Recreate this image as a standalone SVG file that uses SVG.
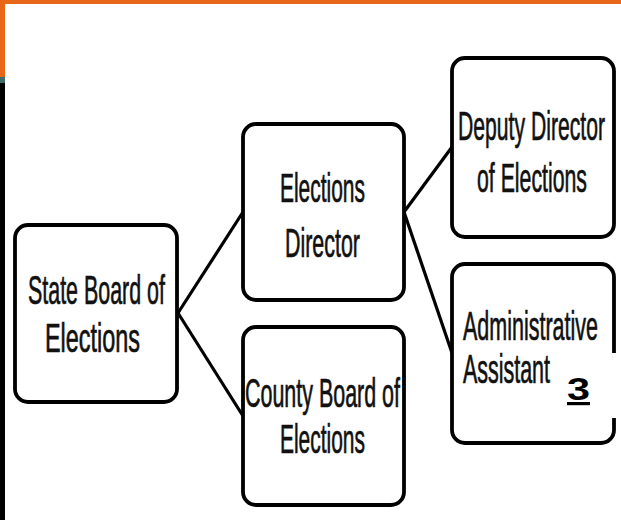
<svg xmlns="http://www.w3.org/2000/svg" width="621" height="520" viewBox="0 0 621 520">
<style>
.box{fill:#fff;stroke:#000;stroke-width:3.8}
.t{font-family:"Liberation Sans",Arial,sans-serif;font-size:41px;fill:#111;stroke:#111;stroke-width:0.7}
.ln{stroke:#000;stroke-width:3.2;fill:none}
</style>
<rect x="0" y="0" width="621" height="520" fill="#fff"/>
<rect x="0" y="0" width="621" height="4" fill="#E8661A"/>
<rect x="0" y="0" width="5" height="77" fill="#E8661A"/>
<rect x="0" y="77" width="5" height="6" fill="#3C6B68"/>
<rect x="0" y="83" width="5" height="437" fill="#000"/>
<g id="connectors">
<line class="ln" x1="178" y1="313" x2="243" y2="212"/>
<line class="ln" x1="178" y1="313" x2="243" y2="416"/>
<line class="ln" x1="404" y1="212" x2="452" y2="147"/>
<line class="ln" x1="404" y1="212" x2="452" y2="353"/>
</g>
<g id="state-board">
<rect class="box" x="15" y="225" width="162" height="177" rx="13"/>
<text class="t" x="28" y="304" textLength="137" lengthAdjust="spacingAndGlyphs">State Board of</text>
<text class="t" x="45" y="352" textLength="95" lengthAdjust="spacingAndGlyphs">Elections</text>
</g>
<g id="elections-director">
<rect class="box" x="243" y="124" width="161" height="176" rx="13"/>
<text class="t" x="280" y="202" textLength="85" lengthAdjust="spacingAndGlyphs">Elections</text>
<text class="t" x="285" y="257" textLength="75" lengthAdjust="spacingAndGlyphs">Director</text>
</g>
<g id="county-board">
<rect class="box" x="243" y="327" width="161" height="178" rx="13"/>
<text class="t" x="245" y="407" textLength="155" lengthAdjust="spacingAndGlyphs">County Board of</text>
<text class="t" x="280" y="453" textLength="85" lengthAdjust="spacingAndGlyphs">Elections</text>
</g>
<g id="deputy-director">
<rect class="box" x="452" y="58" width="162" height="179" rx="13"/>
<text class="t" x="458" y="140" textLength="147" lengthAdjust="spacingAndGlyphs">Deputy Director</text>
<text class="t" x="477" y="192" textLength="110" lengthAdjust="spacingAndGlyphs">of Elections</text>
</g>
<g id="admin-assistant">
<rect class="box" x="452" y="264" width="162" height="179" rx="13"/>
<text class="t" x="463" y="340" textLength="135" lengthAdjust="spacingAndGlyphs">Administrative</text>
<text class="t" x="463" y="383" textLength="87" lengthAdjust="spacingAndGlyphs">Assistant</text>
</g>
<g id="page-number">
<rect x="556" y="353" width="65" height="65" fill="#fff"/>
<text x="567" y="400" font-family="Liberation Sans,Arial,sans-serif" font-weight="bold" font-size="32" text-decoration="underline" fill="#000" textLength="23" lengthAdjust="spacingAndGlyphs">3</text>
</g>
</svg>
